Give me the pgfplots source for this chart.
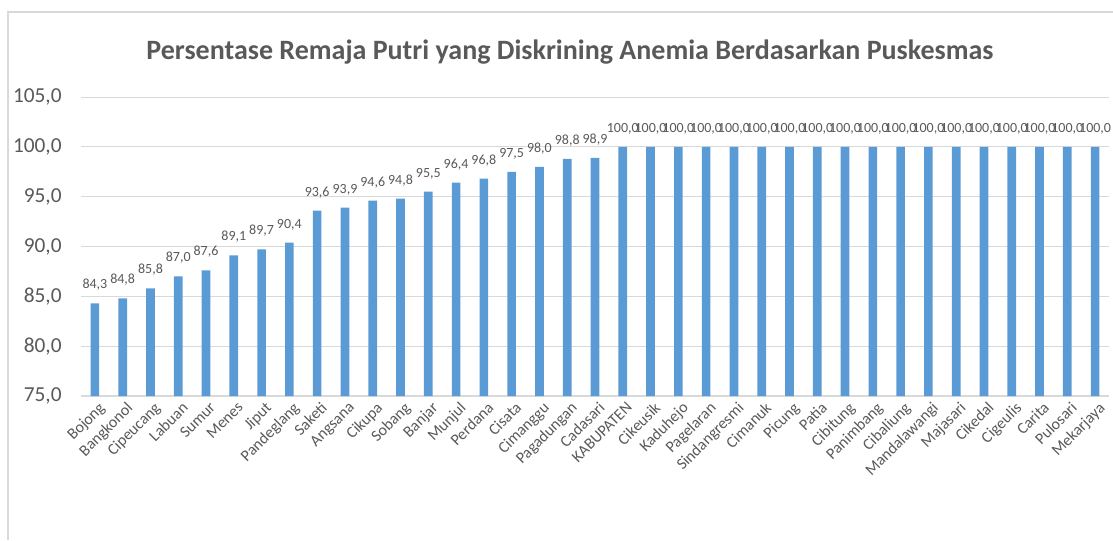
\documentclass[border=0pt]{standalone}
\usepackage{pgfplots}
\pgfplotsset{compat=1.18}
\usepackage{fontspec}
\setmainfont{Carlito}
\definecolor{barc}{HTML}{5B9BD5}
\definecolor{txt}{HTML}{595959}
\definecolor{grd}{HTML}{D9D9D9}
\begin{document}
\begin{tikzpicture}[x=1pt,y=1pt]
\useasboundingbox (0,0) rectangle (834.75,405);
\draw[grd, line width=1pt] (6,0) -- (6,396) -- (834.75,396);
\node[txt, font=\fontsize{21}{25}\selectfont\bfseries, anchor=base] at (427.5,360) {Persentase Remaja Putri yang Diskrining Anemia Berdasarkan Puskesmas};
\begin{axis}[
  at={(60.75pt,108pt)}, anchor=south west, scale only axis,
  width=771pt, height=224.25pt,
  xmin=-0.5, xmax=36.5, ymin=75, ymax=105,
  ytick={75,80,85,90,95,100,105},
  xtick={0,...,36},
  xticklabels={Bojong,Bangkonol,Cipeucang,Labuan,Sumur,Menes,Jiput,Pandeglang,Saketi,Angsana,Cikupa,Sobang,Banjar,Munjul,Perdana,Cisata,Cimanggu,Pagadungan,Cadasari,KABUPATEN,Cikeusik,Kaduhejo,Pagelaran,Sindangresmi,Cimanuk,Picung,Patia,Cibitung,Panimbang,Cibaliung,Mandalawangi,Majasari,Cikedal,Cigeulis,Carita,Pulosari,Mekarjaya},
  /pgf/number format/.cd, fixed, fixed zerofill, precision=1, use comma, assume math mode=true,
  /pgfplots/.cd,
  axis x line*=bottom, axis y line*=left,
  y axis line style={draw=none},
  x axis line style={grd, line width=1pt},
  major tick length=0pt,
  ymajorgrids, grid style={grd, line width=0.75pt},
  yticklabel style={txt, font=\fontsize{16}{19}\selectfont, xshift=-11pt},
  xticklabel style={txt, font=\fontsize{12}{14}\selectfont, rotate=45, anchor=north east, inner sep=1pt, yshift=-3pt},
  ybar, bar width=6.5pt,
  nodes near coords,
  every node near coord/.append style={txt, font=\fontsize{10.5}{12}\selectfont, yshift=6pt},
  clip=false,
]
\addplot[fill=barc, draw=none] coordinates {
(0,84.3) (1,84.8) (2,85.8) (3,87.0) (4,87.6) (5,89.1) (6,89.7) (7,90.4) (8,93.6) (9,93.9)
(10,94.6) (11,94.8) (12,95.5) (13,96.4) (14,96.8) (15,97.5) (16,98.0) (17,98.8) (18,98.9)
(19,100.0) (20,100.0) (21,100.0) (22,100.0) (23,100.0) (24,100.0) (25,100.0) (26,100.0)
(27,100.0) (28,100.0) (29,100.0) (30,100.0) (31,100.0) (32,100.0) (33,100.0) (34,100.0)
(35,100.0) (36,100.0)
};
\end{axis}
\end{tikzpicture}
\end{document}
